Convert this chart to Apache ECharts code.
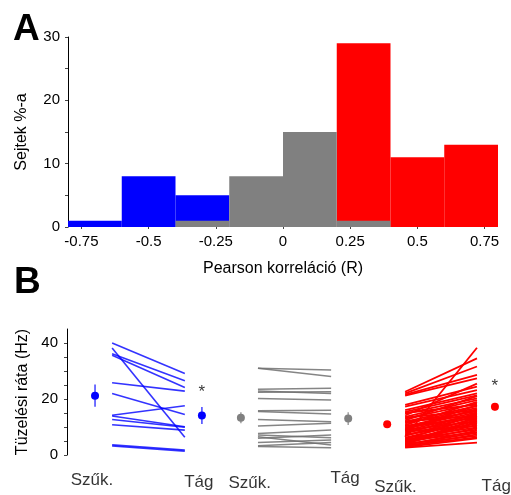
<!DOCTYPE html>
<html>
<head>
<meta charset="utf-8">
<script src="https://cdn.jsdelivr.net/npm/echarts@6/dist/echarts.min.js"></script>
<style>
  html, body { margin: 0; padding: 0; background: #fff; }
  #chart { width: 511px; height: 495px; }
</style>
</head>
<body>
<div id="chart"></div>
<script>
// Panel A: histogram of Pearson correlation coefficients (bin edges, % of cells)
const binEdges = [-0.8, -0.6, -0.4, -0.2, 0, 0.2, 0.4, 0.6, 0.8];
const negCounts = [1, 8, 5, 0, 0, 0, 0, 0];
const posCounts = [0, 0, 0, 0, 0, 29, 11, 13];
const nsCounts  = [0, 0, 1, 8, 15, 1, 0, 0];
const histTicks = [-0.75, -0.5, -0.25, 0, 0.25, 0.5, 0.75];
const histYTicks = [0, 5, 10, 15, 20, 25, 30];

// Panel B: firing rate (Hz) in narrow vs wide condition, one pair per cell
const negPairs = [
  [40.0, 29.1], [36.2, 26.5], [35.6, 24.1], [38.2, 6.3], [25.8, 22.8],
  [22.0, 14.5], [14.2, 17.6], [13.9, 10.1], [12.7, 9.9], [10.8, 8.9],
  [3.6, 1.8], [3.2, 1.4]
];
const nsPairs = [
  [31.0, 30.4], [31.0, 28.0], [23.5, 23.8], [22.9, 22.0], [22.4, 22.6],
  [20.2, 19.6], [15.8, 16.0], [15.5, 14.6], [12.7, 11.9], [10.4, 11.3],
  [7.7, 8.9], [7.1, 6.2], [6.5, 3.6], [6.0, 7.1], [4.5, 5.4],
  [3.3, 4.5], [3.0, 2.6]
];
const posPairs = [
  [22.6, 34.5], [22.0, 31.6], [21.6, 28.6], [21.2, 27.4], [17.9, 24.4],
  [17.3, 23.2], [16.0, 22.0], [15.4, 21.3], [14.8, 20.2], [14.1, 25.5],
  [13.6, 19.6], [13.0, 18.4], [12.4, 21.0], [11.9, 17.5], [11.3, 16.8],
  [10.7, 19.0], [10.2, 15.9], [9.8, 15.2], [9.2, 16.4], [8.7, 14.6],
  [8.1, 13.8], [7.6, 15.0], [7.0, 12.9], [6.5, 38.3], [6.2, 12.2],
  [5.7, 13.4], [5.2, 11.5], [4.8, 10.8], [4.3, 9.6], [3.9, 11.9],
  [3.5, 8.7], [3.1, 7.4], [2.8, 5.9], [2.6, 4.4], [4.0, 6.8],
  [5.5, 9.1], [8.4, 10.3], [12.0, 14.0], [9.5, 14.2], [8.9, 12.0],
  [7.3, 11.1], [6.8, 14.1], [6.0, 9.9], [5.0, 8.2], [4.6, 12.6],
  [3.8, 7.9], [3.3, 6.3], [11.6, 15.6], [10.4, 13.2], [13.3, 16.0],
  [15.0, 18.0], [9.0, 17.8]
];
// group means with error half-widths: [mean, err]
const negMeans = [[21.2, 4.0], [14.1, 3.0]];
const nsMeans  = [[13.3, 2.0], [13.0, 2.3]];
const posMeans = [[11.0, 1.0], [17.2, 1.3]];
const starValues = [22.3, 24.4];
const condLabels = ['Szűk.', 'Tág', 'Szűk.', 'Tág', 'Szűk.', 'Tág'];
const bYTicks = [0, 5, 10, 15, 20, 25, 30, 35, 40];

// horizontal layout of panel B (x-axis units)
const groupX = [
  { mean0: 6.4, line0: 10.3, line1: 26.9, mean1: 30.8 },
  { mean0: 39.7, line0: 43.6, line1: 60.3, mean1: 64.2 },
  { mean0: 73.1, line0: 77.2, line1: 93.6, mean1: 97.7 }
];
const labelX = [5.7, 30.1, 41.7, 63.5, 75.0, 98.0];
const labelY = [-8.9, -9.8, -10.2, -8.4, -11.4, -11.1];

const BLUE = '#0000ff', GRAY = '#808080', RED = '#ff0000';
const FONT = 'Liberation Sans';

function histSeries(name, counts, color) {
  const data = counts.map((c, i) => [binEdges[i], binEdges[i + 1], c]).filter(d => d[2] > 0);
  return {
    name, type: 'custom', xAxisIndex: 0, yAxisIndex: 0, data,
    renderItem(params, api) {
      const p0 = api.coord([api.value(0), 0]);
      const p1 = api.coord([api.value(1), api.value(2)]);
      return { type: 'rect', shape: { x: p0[0], y: p1[1], width: p1[0] - p0[0], height: p0[1] - p1[1] },
               style: { fill: color } };
    }
  };
}

function pairSeries(pairs, gx, color, width, opacity) {
  return {
    type: 'custom', xAxisIndex: 1, yAxisIndex: 1, data: pairs,
    renderItem(params, api) {
      const a = api.coord([gx.line0, api.value(0)]);
      const b = api.coord([gx.line1, api.value(1)]);
      return { type: 'line', shape: { x1: a[0], y1: a[1], x2: b[0], y2: b[1] },
               style: { stroke: color, lineWidth: width, opacity } };
    }
  };
}

function meanSeries(means, gx, color) {
  const data = means.map((m, i) => [i === 0 ? gx.mean0 : gx.mean1, m[0], m[1]]);
  return {
    type: 'custom', xAxisIndex: 1, yAxisIndex: 1, data,
    renderItem(params, api) {
      const x = api.value(0), m = api.value(1), e = api.value(2);
      const top = api.coord([x, m + e]);
      const bot = api.coord([x, m - e]);
      const c = api.coord([x, m]);
      return { type: 'group', children: [
        { type: 'line', shape: { x1: top[0], y1: top[1], x2: bot[0], y2: bot[1] },
          style: { stroke: color, lineWidth: 1.5, opacity: 0.75 } },
        { type: 'circle', shape: { cx: c[0], cy: c[1], r: 4 }, style: { fill: color } }
      ] };
    }
  };
}

const chart = echarts.init(document.getElementById('chart'));
chart.setOption({
  animation: false,
  backgroundColor: '#fff',
  title: [
    { text: 'A', left: 8, top: 6, textStyle: { fontFamily: FONT, fontSize: 37, fontWeight: 'bold', color: '#000' } },
    { text: 'B', left: 9, top: 259, textStyle: { fontFamily: FONT, fontSize: 37, fontWeight: 'bold', color: '#000' } }
  ],
  grid: [
    { left: 68, right: 13, top: 37, height: 190 },
    { left: 67, right: 6, top: 329, height: 126 }
  ],
  xAxis: [
    {
      type: 'value', gridIndex: 0, min: -0.8, max: 0.8,
      name: 'Pearson korreláció (R)', nameLocation: 'middle', nameGap: 34,
      nameTextStyle: { fontFamily: FONT, fontSize: 16, color: '#000' },
      axisLine: { show: false, onZero: false },
      axisTick: { show: true, customValues: histTicks, length: 2, lineStyle: { color: '#444' } },
      axisLabel: { customValues: histTicks, margin: 7, fontFamily: FONT, fontSize: 15, color: '#000',
                   formatter: v => String(v) },
      splitLine: { show: false }
    },
    {
      type: 'value', gridIndex: 1, min: 0, max: 100,
      show: false
    }
  ],
  yAxis: [
    {
      type: 'value', gridIndex: 0, min: 0, max: 30,
      name: 'Sejtek %-a', nameLocation: 'middle', nameGap: 38, nameRotate: 90,
      nameTextStyle: { fontFamily: FONT, fontSize: 16, color: '#000' },
      axisLine: { show: true, onZero: false, lineStyle: { color: '#000', width: 1 } },
      axisTick: { show: true, customValues: histYTicks, length: 3, lineStyle: { color: '#444' } },
      axisLabel: { customValues: [0, 10, 20, 30], margin: 8, fontFamily: FONT, fontSize: 15, color: '#000' },
      splitLine: { show: false }
    },
    {
      type: 'value', gridIndex: 1, min: 0, max: 45,
      name: 'Tüzelési ráta (Hz)', nameLocation: 'middle', nameGap: 36, nameRotate: 90,
      nameTextStyle: { fontFamily: FONT, fontSize: 16, color: '#000' },
      axisLine: { show: true, onZero: false, lineStyle: { color: '#000', width: 1 } },
      axisTick: { show: true, customValues: bYTicks, length: 3, lineStyle: { color: '#444' } },
      axisLabel: { customValues: [0, 20, 40], margin: 9, fontFamily: FONT, fontSize: 15, color: '#000' },
      splitLine: { show: false }
    }
  ],
  series: [
    histSeries('neg', negCounts, BLUE),
    histSeries('pos', posCounts, RED),
    histSeries('ns', nsCounts, GRAY),

    pairSeries(negPairs, groupX[0], BLUE, 1.6, 0.8),
    pairSeries(nsPairs, groupX[1], '#707070', 1.5, 0.85),
    pairSeries(posPairs, groupX[2], RED, 1.8, 1),

    meanSeries(negMeans, groupX[0], BLUE),
    meanSeries(nsMeans, groupX[1], GRAY),
    meanSeries(posMeans, groupX[2], RED),

    {
      type: 'scatter', xAxisIndex: 1, yAxisIndex: 1, symbolSize: 0, silent: true,
      data: [[groupX[0].mean1, starValues[0]], [groupX[2].mean1, starValues[1]]],
      label: { show: true, position: 'inside', formatter: '*', fontFamily: FONT, fontSize: 17, color: '#000' }
    },
    {
      type: 'scatter', xAxisIndex: 1, yAxisIndex: 1, symbolSize: 0, silent: true, clip: false,
      data: condLabels.map((t, i) => ({ value: [labelX[i], labelY[i]], name: t })),
      label: { show: true, position: 'inside', formatter: p => p.name, fontFamily: FONT, fontSize: 17, color: '#000' }
    }
  ]
});
</script>
</body>
</html>
